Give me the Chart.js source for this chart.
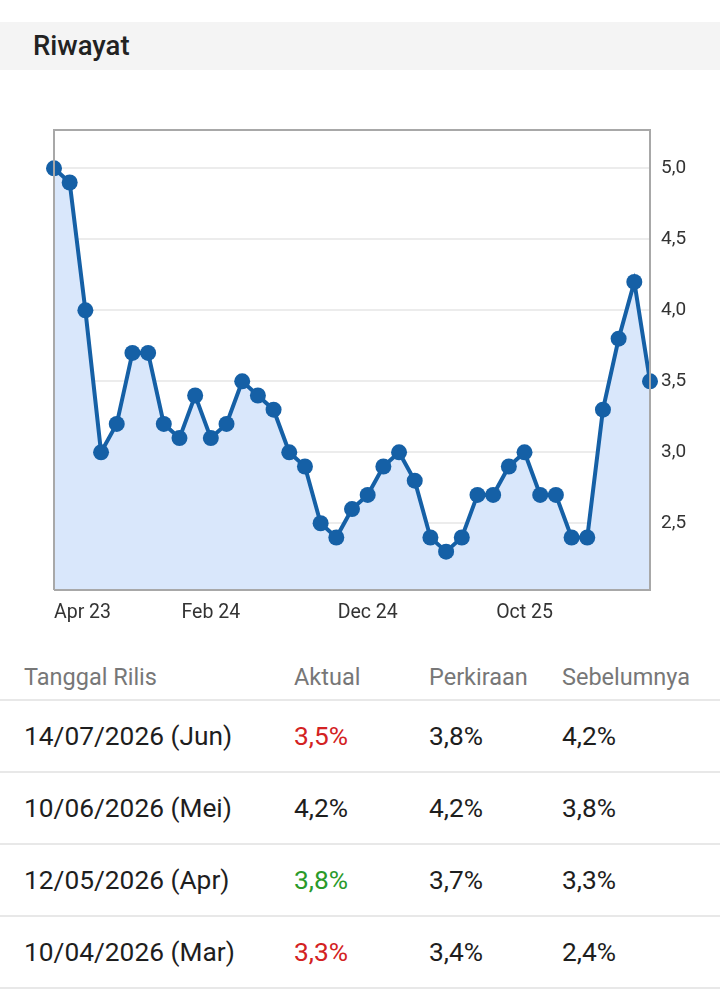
<!DOCTYPE html>
<html>
<head>
<meta charset="utf-8">
<script src="https://cdn.jsdelivr.net/npm/chart.js@4"></script>
<style>
  body { margin:0; background:#fff; font-family:Roboto, sans-serif; width:720px; height:999px; position:relative; overflow:hidden; }
  .title-bar { position:absolute; left:0; top:22px; width:720px; height:48px; background:#f4f4f4; }
  .title-bar span { position:absolute; left:33px; top:7px; font-size:27.5px; font-weight:500; color:#222; }
  .chart-wrap { position:absolute; left:0; top:100px; width:720px; height:540px; }
  table { position:absolute; left:0; top:655px; width:720px; border-collapse:collapse; }
  th { font-weight:400; font-size:23.5px; color:#777; text-align:left; height:44px; padding:0; border-bottom:2px solid #e8e8e8; }
  td { font-size:26.3px; color:#1e1e1e; height:70px; padding:0; border-bottom:2px solid #e8e8e8; }
  .c0 { padding-left:24px; width:270px; }
  .c1 { width:135px; }
  .c2 { width:133px; }
  .neg { color:#d32222; }
  .pos { color:#2a9a2a; }
</style>
</head>
<body>
<div class="title-bar"><span>Riwayat</span></div>
<div class="chart-wrap"><canvas id="chart" width="720" height="540"></canvas></div>
<table>
  <thead><tr><th class="c0">Tanggal Rilis</th><th class="c1">Aktual</th><th class="c2">Perkiraan</th><th>Sebelumnya</th></tr></thead>
  <tbody id="rows"></tbody>
</table>
<script>
const months = [
  'Apr 23','May 23','Jun 23','Jul 23','Aug 23','Sep 23','Oct 23','Nov 23','Dec 23',
  'Jan 24','Feb 24','Mar 24','Apr 24','May 24','Jun 24','Jul 24','Aug 24','Sep 24','Oct 24','Nov 24','Dec 24',
  'Jan 25','Feb 25','Mar 25','Apr 25','May 25','Jun 25','Jul 25','Aug 25','Sep 25','Oct 25','Nov 25','Dec 25',
  'Jan 26','Feb 26','Mar 26','Apr 26','May 26','Jun 26'
]
const values = [
  5.0, 4.9, 4.0, 3.0, 3.2, 3.7, 3.7, 3.2, 3.1, 3.4, 3.1, 3.2, 3.5, 3.4, 3.3, 3.0, 2.9, 2.5, 2.4, 2.6,
  2.7, 2.9, 3.0, 2.8, 2.4, 2.3, 2.4, 2.7, 2.7, 2.9, 3.0, 2.7, 2.7, 2.4, 2.4, 3.3, 3.8, 4.2, 3.5
]
const xTickLabels = ['Apr 23', 'Feb 24', 'Dec 24', 'Oct 25']
const yTicks = [2.5, 3.0, 3.5, 4.0, 4.5, 5.0]

const releaseDates = ['14/07/2026 (Jun)', '10/06/2026 (Mei)', '12/05/2026 (Apr)', '10/04/2026 (Mar)']
const actual = ['3,5%', '4,2%', '3,8%', '3,3%']
const actualClass = ['neg', '', 'pos', 'neg']
const forecast = ['3,8%', '4,2%', '3,7%', '3,4%']
const previous = ['4,2%', '3,8%', '3,3%', '2,4%']

const $rows = document.getElementById('rows')
releaseDates.forEach((d, i) => {
  const tr = document.createElement('tr')
  tr.innerHTML = '<td class="c0">'+d+'</td><td class="c1 '+actualClass[i]+'">'+actual[i]+'</td><td class="c2">'+forecast[i]+'</td><td>'+previous[i]+'</td>'
  $rows.appendChild(tr)
})

// outline round the plot area, and the first month label kept inside the left edge
const frame = {
  id: 'frame',
  beforeDraw(chart) {
    const items = chart.scales.x.getLabelItems(chart.chartArea)
    if (items.length) { items[0].options.textAlign = 'left' }
  },
  afterDraw(chart) {
    const a = chart.chartArea, ctx = chart.ctx
    ctx.save()
    ctx.lineWidth = 2
    ctx.strokeStyle = '#a8a8a8'
    ctx.beginPath()
    ctx.moveTo(a.left, a.bottom); ctx.lineTo(a.left, a.top); ctx.lineTo(a.right, a.top); ctx.lineTo(a.right, a.bottom); ctx.lineTo(a.left, a.bottom)
    ctx.stroke()
    ctx.restore()
  }
}

const fmt = v => v.toFixed(1).replace('.', ',')

new Chart(document.getElementById('chart'), {
  type: 'line',
  data: {
    labels: months,
    datasets: [{
      data: values,
      borderColor: '#1560a6',
      backgroundColor: '#d9e7fb',
      fill: 'start',
      borderWidth: 4,
      tension: 0,
      pointRadius: 8,
      pointBackgroundColor: '#1560a6',
      pointBorderWidth: 0,
      clip: false
    }]
  },
  options: {
    responsive: false,
    animation: false,
    layout: { padding: { left: 54, top: 30, right: 0, bottom: 0 } },
    plugins: { legend: { display: false }, tooltip: { enabled: false } },
    scales: {
      x: {
        offset: false,
        grid: { display: false },
        border: { display: false },
        ticks: {
          autoSkip: false, maxRotation: 0, color: '#333', padding: 3,
          font: { family: 'Roboto', size: 19.5 },
          callback: function(v, i) { const l = months[i]; return xTickLabels.includes(l) ? l : '' }
        },
        afterFit: s => { s.height = 50 }
      },
      y: {
        position: 'right',
        min: 2.03, max: 5.27,
        grid: { color: '#ececec', lineWidth: 2, drawTicks: false },
        border: { display: false },
        ticks: { color: '#333', padding: 11, font: { family: 'Roboto', size: 19 }, callback: v => fmt(v) },
        afterBuildTicks: s => { s.ticks = yTicks.map(v => ({ value: v })) },
        afterFit: s => { s.width = 70 }
      }
    }
  },
  plugins: [frame]
})
</script>
</body>
</html>
